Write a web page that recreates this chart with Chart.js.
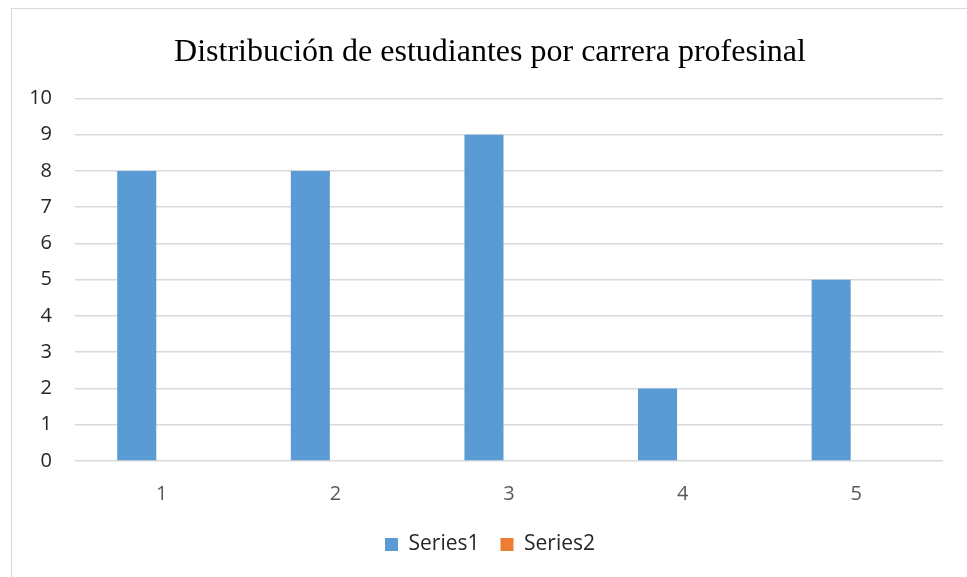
<!DOCTYPE html>
<html>
<head>
<meta charset="utf-8">
<script src="https://cdn.jsdelivr.net/npm/chart.js@4.4.0/dist/chart.umd.min.js"></script>
<style>
  html, body { margin: 0; padding: 0; background: #fff; overflow: hidden; }
  #frame { position: absolute; left: 11px; top: 8px; width: 1000px; height: 1000px; border: 1px solid #d9d9d9; }
  #mygraph { position: absolute; left: 0; top: 0; }
</style>
</head>
<body>
<div id="frame"></div>
<canvas id="mygraph" width="967" height="565"></canvas>
<script>
const categories = ['1', '2', '3', '4', '5'];
const series1 = [8, 8, 9, 2, 5];
const series2 = [0, 0, 0, 0, 0];
const yTicks = [0, 1, 2, 3, 4, 5, 6, 7, 8, 9, 10];

const sans = "'Open Sans', 'Liberation Sans', sans-serif";

const data = {
  labels: categories,
  datasets: [
    { label: 'Series1', data: series1, backgroundColor: '#5b9bd5' },
    { label: 'Series2', data: series2, backgroundColor: '#ed7d31' }
  ]
};

const config = {
  type: 'bar',
  data,
  options: {
    responsive: false,
    animation: false,
    categoryPercentage: 0.577,
    barPercentage: 0.78,
    layout: { padding: { left: 13, right: 0, top: 0, bottom: 0 } },
    plugins: {
      title: {
        display: true,
        text: 'Distribución de estudiantes por carrera profesinal',
        color: '#000',
        font: { family: "'Liberation Serif', 'Times New Roman', serif", size: 32, weight: 'normal', lineHeight: 1.2 },
        padding: { top: 33, bottom: 27 }
      },
      legend: {
        position: 'bottom',
        labels: {
          boxWidth: 13, boxHeight: 13, padding: 21,
          color: '#262626',
          font: { family: sans, size: 21 }
        }
      },
      tooltip: { enabled: false }
    },
    scales: {
      x: {
        afterFit: s => { s.height = 52; },
        grid: { display: false },
        border: { display: false },
        ticks: { color: '#595959', font: { family: sans, size: 20 }, padding: 13 }
      },
      y: {
        min: 0, max: 10,
        afterFit: s => { s.width = 62; },
        afterBuildTicks: s => { s.ticks = yTicks.map(v => ({ value: v })); },
        grid: { color: '#d9d9d9', lineWidth: 1.5, drawTicks: false },
        border: { display: false },
        ticks: { color: '#262626', font: { family: sans, size: 20 }, padding: 23 }
      },
      yRight: {
        position: 'right',
        afterFit: s => { s.width = 24; },
        grid: { display: false },
        border: { display: false },
        ticks: { display: false }
      }
    }
  }
};

const mygraph = new Chart(document.getElementById('mygraph'), config);
</script>
</body>
</html>
